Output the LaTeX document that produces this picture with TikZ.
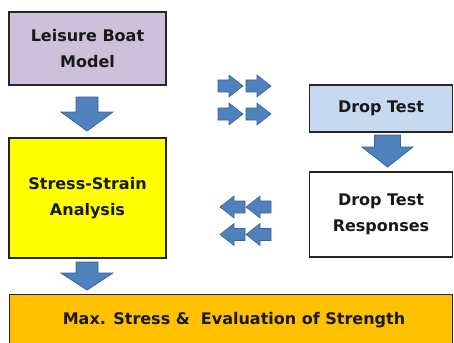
\documentclass[tikz,border=0pt]{standalone}
\usepackage{fontspec}
\setmainfont{DejaVu Sans}
\begin{document}
\begin{tikzpicture}[x=1pt,y=-1pt,
  box/.style={draw=black!85, line width=1.3pt, inner sep=0pt, align=center,
    font=\fontsize{16}{25.5}\selectfont\bfseries, text=black!90},
  blockarrow/.style={fill=arrowblue, draw=arrowedge, line width=0.8pt, line join=miter}
]
\definecolor{arrowblue}{HTML}{4F81BD}
\definecolor{arrowedge}{HTML}{3A6494}
\definecolor{lavender}{HTML}{CCC0DA}
\definecolor{lightblue}{HTML}{C6D9F1}
\definecolor{boxyellow}{HTML}{FFFF00}
\definecolor{boxorange}{HTML}{FFC000}
\useasboundingbox (0,0) rectangle (454,342);
\clip (0,0) rectangle (454,342);
% boxes
\node[box, fill=lavender, minimum width=157pt, minimum height=73pt] (boat) at (87.5,48.5) {Leisure Boat\\Model};
\node[box, fill=boxyellow, minimum width=157pt, minimum height=120pt] (stress) at (87.5,198) {Stress-Strain\\Analysis};
\node[box, fill=lightblue, minimum width=143pt, minimum height=47pt] (drop) at (381,108.5) {Drop Test};
\node[box, fill=white, minimum width=143pt, minimum height=85pt] (resp) at (381,214.5) {Drop Test\\Responses};
\node[box, fill=boxorange, minimum width=443pt, minimum height=56pt, anchor=north west] (max) at (9,294) {};
\node[font=\fontsize{16}{20}\selectfont\bfseries, text=black!90] (maxtext) at (234,320) {Max. Stress \&\ \ Evaluation of Strength};
% down block arrows
\foreach \cx/\ty/\hy/\tip/\sw/\hw in {87/97/112/131/11/26, 87/262/273/290/11/26, 387.5/135/147/167/13/25.5}{
  \draw[blockarrow] (\cx-\sw,\ty) -- (\cx+\sw,\ty) -- (\cx+\sw,\hy) -- (\cx+\hw,\hy)
    -- (\cx,\tip) -- (\cx-\hw,\hy) -- (\cx-\sw,\hy) -- cycle;
}
% small right arrows
\foreach \x/\y in {218/86, 246/86, 218/114, 246/114}{
  \draw[blockarrow, line width=0.6pt] (\x,\y-6) -- (\x+11,\y-6) -- (\x+11,\y-11) -- (\x+25,\y)
    -- (\x+11,\y+11) -- (\x+11,\y+6) -- (\x,\y+6) -- cycle;
}
% small left arrows
\foreach \x/\y in {245/207, 271/207, 245/234.5, 271/234.5}{
  \draw[blockarrow, line width=0.6pt] (\x,\y-6) -- (\x-11,\y-6) -- (\x-11,\y-11) -- (\x-25,\y)
    -- (\x-11,\y+11) -- (\x-11,\y+6) -- (\x,\y+6) -- cycle;
}
\end{tikzpicture}
\end{document}
